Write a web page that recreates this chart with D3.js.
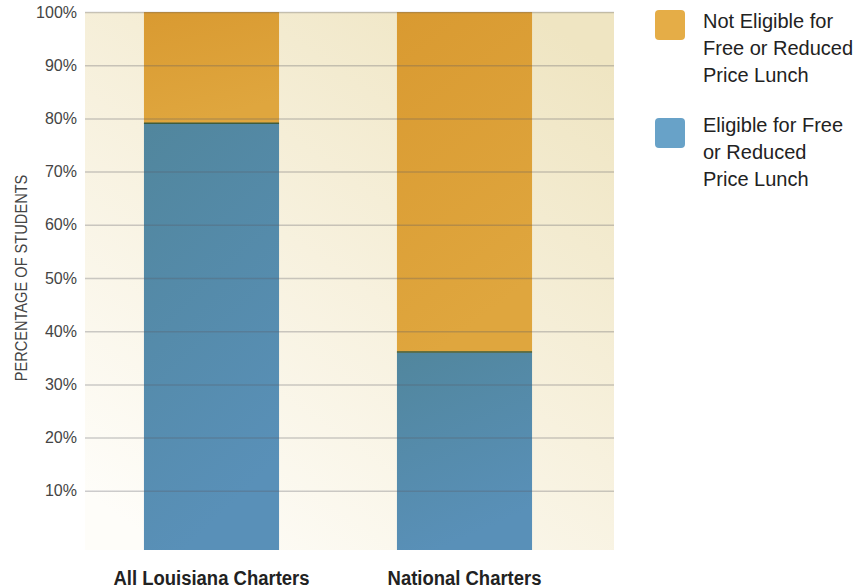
<!DOCTYPE html>
<html>
<head>
<meta charset="utf-8">
<script src="https://cdn.jsdelivr.net/npm/d3@7"></script>
<style>
  html, body { margin: 0; padding: 0; background: #fff; }
  svg { display: block; }
</style>
</head>
<body>
<svg id="chart" width="859" height="588"></svg>
<script>
const categories = ["All Louisiana Charters", "National Charters"];
const eligible = [79, 36];
const notEligible = [21, 64];
const seriesNames = ["Not Eligible for Free or Reduced Price Lunch", "Eligible for Free or Reduced Price Lunch"];
const legendLines = [["Not Eligible for", "Free or Reduced", "Price Lunch"], ["Eligible for Free", "or Reduced", "Price Lunch"]];
const tickValues = [10, 20, 30, 40, 50, 60, 70, 80, 90, 100];
const yLabel = "PERCENTAGE OF STUDENTS";

const svg = d3.select("#chart");
const plot = { left: 85, right: 614, top: 12, bottom: 550 };

const defs = svg.append("defs");
const bg = defs.append("linearGradient").attr("id", "bg").attr("x1", "0.15").attr("y1", "1").attr("x2", "0.85").attr("y2", "0");
bg.append("stop").attr("offset", "0").attr("stop-color", "#fefdf9");
bg.append("stop").attr("offset", "0.5").attr("stop-color", "#f7f1de");
bg.append("stop").attr("offset", "1").attr("stop-color", "#efe5c2");

const gBlue = defs.append("linearGradient").attr("id", "gBlue").attr("x1", "0").attr("y1", "0").attr("x2", "0.3").attr("y2", "1");
gBlue.append("stop").attr("offset", "0").attr("stop-color", "#51869d");
gBlue.append("stop").attr("offset", "1").attr("stop-color", "#5990b8");
const gOrange = defs.append("linearGradient").attr("id", "gOrange").attr("x1", "0").attr("y1", "0").attr("x2", "0.3").attr("y2", "1");
gOrange.append("stop").attr("offset", "0").attr("stop-color", "#d99a31");
gOrange.append("stop").attr("offset", "1").attr("stop-color", "#dfa63e");

const y = d3.scaleLinear().domain([0, 100]).range([544, 12]);
const x = d3.scaleBand().domain(categories).range([85, 591]).paddingInner(0.466).paddingOuter(0.233);

svg.append("rect").attr("x", plot.left).attr("y", plot.top)
  .attr("width", plot.right - plot.left).attr("height", plot.bottom - plot.top)
  .attr("fill", "url(#bg)");

// bars
const data = categories.map((c, i) => ({ c, e: eligible[i], n: notEligible[i] }));
const bars = svg.append("g");
bars.selectAll(".not").data(data).join("rect")
  .attr("x", d => x(d.c)).attr("width", x.bandwidth())
  .attr("y", d => y(d.e + d.n)).attr("height", d => y(d.e) - y(d.e + d.n))
  .attr("fill", "url(#gOrange)");
bars.selectAll(".el").data(data).join("rect")
  .attr("x", d => x(d.c)).attr("width", x.bandwidth())
  .attr("y", d => y(d.e)).attr("height", d => plot.bottom - y(d.e))
  .attr("fill", "url(#gBlue)");
bars.selectAll(".sep").data(data).join("line")
  .attr("x1", d => x(d.c)).attr("x2", d => x(d.c) + x.bandwidth())
  .attr("y1", d => y(d.e) - 0.5).attr("y2", d => y(d.e) - 0.5)
  .attr("stroke", "#3f5d3c").attr("stroke-width", 1.5);

// gridlines + ticks
const axis = d3.axisLeft(y).tickValues(tickValues).tickSize(-(plot.right - plot.left)).tickPadding(8).tickFormat(d => d + "%");
const ag = svg.append("g").attr("transform", `translate(${plot.left},0)`).call(axis);
ag.select(".domain").remove();
ag.selectAll(".tick line").attr("stroke", "rgba(90,90,100,0.3)").attr("stroke-width", 1.5);
ag.selectAll(".tick text").attr("fill", "#444").style("font-family", "Liberation Sans, Arial, sans-serif").style("font-size", "16px");

// y label (condensed look)
svg.append("text")
  .attr("transform", `translate(27,${(plot.top + 544) / 2}) rotate(-90) scale(0.86,1)`)
  .attr("text-anchor", "middle")
  .attr("fill", "#444")
  .style("font-family", "Liberation Sans, Arial, sans-serif")
  .style("font-size", "17px")
  .text(yLabel);

// category labels (condensed bold look)
svg.append("g").selectAll("text").data(categories).join("text")
  .attr("transform", d => `translate(${x(d) + x.bandwidth() / 2},585) scale(0.88,1)`)
  .attr("text-anchor", "middle")
  .attr("fill", "#222")
  .style("font-family", "Liberation Sans, Arial, sans-serif")
  .style("font-weight", "bold")
  .style("font-size", "21px")
  .text(d => d);

// legend
const legendColors = ["#e5ad47", "#68a2c8"];
const lg = svg.append("g");
const swatchY = [10, 118];
const textY = [28, 132];
seriesNames.forEach((name, i) => {
  lg.append("rect").attr("x", 655).attr("y", swatchY[i]).attr("width", 30).attr("height", 30).attr("rx", 4).attr("fill", legendColors[i]);
  const t = lg.append("text").attr("fill", "#222")
    .style("font-family", "Liberation Sans, Arial, sans-serif").style("font-size", "20px");
  legendLines[i].forEach((ln, j) => {
    t.append("tspan").attr("x", 703).attr("y", textY[i] + j * 27).text(ln);
  });
});
</script>
</body>
</html>
